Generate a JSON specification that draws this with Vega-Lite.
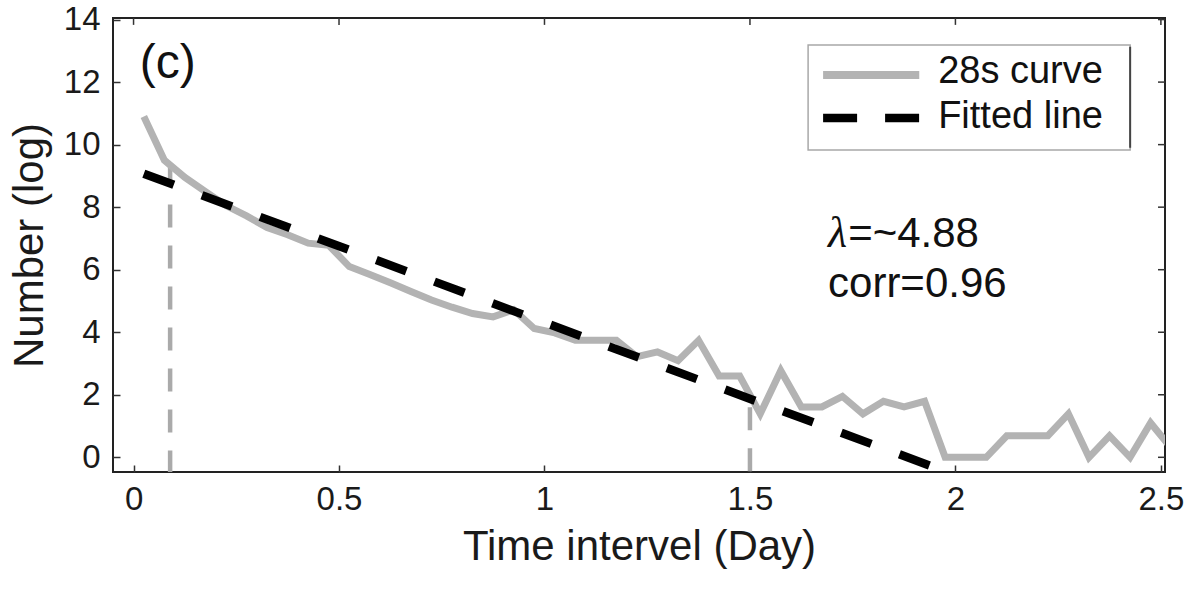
{
  "$schema": "https://vega.github.io/schema/vega-lite/v6.json",
  "autosize": {"type": "none"},
  "padding": {"left": 113, "top": 18, "right": 29, "bottom": 118},
  "width": 1052,
  "height": 454,
  "background": "white",
  "config": {
    "font": "Liberation Sans",
    "view": {"stroke": "#222222", "strokeWidth": 2},
    "axis": {"grid": false, "domain": false, "tickColor": "#333333", "tickWidth": 1.5, "tickSize": -7, "labelColor": "#1a1a1a", "titleColor": "#1a1a1a", "labelFont": "Liberation Sans", "titleFont": "Liberation Sans", "titleFontWeight": "normal"}
  },
  "datasets": {
    "lines": [
      {"series": "28s curve", "x": 0.025, "y": 10.9},
      {"series": "28s curve", "x": 0.075, "y": 9.5},
      {"series": "28s curve", "x": 0.125, "y": 8.95},
      {"series": "28s curve", "x": 0.175, "y": 8.5},
      {"series": "28s curve", "x": 0.225, "y": 8.05},
      {"series": "28s curve", "x": 0.275, "y": 7.72},
      {"series": "28s curve", "x": 0.325, "y": 7.35},
      {"series": "28s curve", "x": 0.375, "y": 7.12},
      {"series": "28s curve", "x": 0.425, "y": 6.85},
      {"series": "28s curve", "x": 0.475, "y": 6.78},
      {"series": "28s curve", "x": 0.525, "y": 6.1},
      {"series": "28s curve", "x": 0.575, "y": 5.85},
      {"series": "28s curve", "x": 0.625, "y": 5.58},
      {"series": "28s curve", "x": 0.675, "y": 5.3},
      {"series": "28s curve", "x": 0.725, "y": 5.03},
      {"series": "28s curve", "x": 0.775, "y": 4.8},
      {"series": "28s curve", "x": 0.825, "y": 4.6},
      {"series": "28s curve", "x": 0.875, "y": 4.49},
      {"series": "28s curve", "x": 0.925, "y": 4.72},
      {"series": "28s curve", "x": 0.975, "y": 4.12},
      {"series": "28s curve", "x": 1.025, "y": 3.98},
      {"series": "28s curve", "x": 1.075, "y": 3.74},
      {"series": "28s curve", "x": 1.125, "y": 3.74},
      {"series": "28s curve", "x": 1.175, "y": 3.74},
      {"series": "28s curve", "x": 1.225, "y": 3.22},
      {"series": "28s curve", "x": 1.275, "y": 3.37},
      {"series": "28s curve", "x": 1.325, "y": 3.09},
      {"series": "28s curve", "x": 1.375, "y": 3.74},
      {"series": "28s curve", "x": 1.425, "y": 2.6},
      {"series": "28s curve", "x": 1.475, "y": 2.6},
      {"series": "28s curve", "x": 1.525, "y": 1.39},
      {"series": "28s curve", "x": 1.575, "y": 2.77},
      {"series": "28s curve", "x": 1.625, "y": 1.61},
      {"series": "28s curve", "x": 1.675, "y": 1.61},
      {"series": "28s curve", "x": 1.725, "y": 1.95},
      {"series": "28s curve", "x": 1.775, "y": 1.39},
      {"series": "28s curve", "x": 1.825, "y": 1.79},
      {"series": "28s curve", "x": 1.875, "y": 1.61},
      {"series": "28s curve", "x": 1.925, "y": 1.79},
      {"series": "28s curve", "x": 1.975, "y": 0},
      {"series": "28s curve", "x": 2.025, "y": 0},
      {"series": "28s curve", "x": 2.075, "y": 0},
      {"series": "28s curve", "x": 2.125, "y": 0.69},
      {"series": "28s curve", "x": 2.175, "y": 0.69},
      {"series": "28s curve", "x": 2.225, "y": 0.69},
      {"series": "28s curve", "x": 2.275, "y": 1.39},
      {"series": "28s curve", "x": 2.325, "y": 0},
      {"series": "28s curve", "x": 2.375, "y": 0.69},
      {"series": "28s curve", "x": 2.425, "y": 0},
      {"series": "28s curve", "x": 2.475, "y": 1.1},
      {"series": "28s curve", "x": 2.525, "y": 0.3},
      {"series": "Fitted line", "x": 0.025, "y": 9.07},
      {"series": "Fitted line", "x": 2.0, "y": -0.57}
    ],
    "marks": [
      {"x": 0.089, "top": 9.4},
      {"x": 1.5, "top": 1.6}
    ],
    "xticks": [{"v": 0}, {"v": 0.5}, {"v": 1}, {"v": 1.5}, {"v": 2}, {"v": 2.5}],
    "yticks": [{"v": 0}, {"v": 2}, {"v": 4}, {"v": 6}, {"v": 8}, {"v": 10}, {"v": 12}, {"v": 14}],
    "legend": [
      {"series": "28s curve", "ly": 12.226, "ty": 11.97},
      {"series": "Fitted line", "ly": 10.85, "ty": 10.53}
    ]
  },
  "layer": [
    {
      "data": {"name": "marks"},
      "mark": {"type": "rule", "color": "#aaaaaa", "strokeWidth": 4.5, "strokeDash": [23, 18], "clip": true},
      "encoding": {
        "x": {"field": "x", "type": "quantitative", "scale": {"domain": [-0.05, 2.51], "nice": false, "zero": false},
          "axis": {"orient": "bottom", "title": "Time intervel (Day)", "values": [0, 0.5, 1, 1.5, 2, 2.5], "format": "~g", "labelFontSize": 33, "labelPadding": 18, "titleFontSize": 42, "titlePadding": 10}},
        "y": {"field": "top", "type": "quantitative", "scale": {"domain": [-0.47, 14.05], "nice": false, "zero": false},
          "axis": {"orient": "left", "title": "Number (log)", "values": [0, 2, 4, 6, 8, 10, 12, 14], "labelFontSize": 33, "labelPadding": 20, "titleFontSize": 42, "titlePadding": 12}},
        "y2": {"datum": -0.6}
      }
    },
    {
      "data": {"name": "xticks"},
      "mark": {"type": "rule", "color": "#333333", "strokeWidth": 1.5},
      "encoding": {
        "x": {"field": "v", "type": "quantitative"},
        "y": {"datum": 14.05},
        "y2": {"datum": 13.83}
      }
    },
    {
      "data": {"name": "yticks"},
      "mark": {"type": "rule", "color": "#333333", "strokeWidth": 1.5},
      "encoding": {
        "y": {"field": "v", "type": "quantitative"},
        "x": {"datum": 2.51},
        "x2": {"datum": 2.493}
      }
    },
    {
      "data": {"name": "lines"},
      "transform": [{"filter": "datum.series === '28s curve'"}],
      "mark": {"type": "line", "clip": true, "strokeWidth": 7, "strokeJoin": "miter"},
      "encoding": {
        "x": {"field": "x", "type": "quantitative"},
        "y": {"field": "y", "type": "quantitative"},
        "color": {"field": "series", "type": "nominal", "scale": {"domain": ["28s curve", "Fitted line"], "range": ["#b3b3b3", "#000000"]}, "legend": null}
      }
    },
    {
      "data": {"name": "lines"},
      "transform": [{"filter": "datum.series === 'Fitted line'"}],
      "mark": {"type": "line", "clip": true, "strokeWidth": 8.5, "strokeCap": "butt", "strokeDash": [32, 30]},
      "encoding": {
        "x": {"field": "x", "type": "quantitative"},
        "y": {"field": "y", "type": "quantitative"},
        "color": {"field": "series", "type": "nominal", "legend": null}
      }
    },
    {
      "data": {"values": [{}]},
      "mark": {"type": "rect", "fill": "white", "stroke": "#a8a8a8", "strokeWidth": 1.5},
      "encoding": {"x": {"datum": 1.6415}, "x2": {"datum": 2.4252}, "y": {"datum": 13.19}, "y2": {"datum": 9.83}}
    },
    {
      "data": {"values": [{}]},
      "mark": {"type": "rule", "color": "#444444", "strokeWidth": 2},
      "encoding": {"x": {"datum": 2.4252}, "y": {"datum": 13.13}, "y2": {"datum": 9.9}}
    },
    {
      "data": {"name": "legend"},
      "transform": [{"filter": "datum.series === '28s curve'"}],
      "mark": {"type": "rule", "strokeWidth": 8, "strokeCap": "butt"},
      "encoding": {
        "x": {"datum": 1.678}, "x2": {"datum": 1.912},
        "y": {"field": "ly", "type": "quantitative"},
        "color": {"field": "series", "type": "nominal", "legend": null}
      }
    },
    {
      "data": {"name": "legend"},
      "transform": [{"filter": "datum.series === 'Fitted line'"}],
      "mark": {"type": "rule", "strokeWidth": 8.5, "strokeCap": "butt", "strokeDash": [34, 28]},
      "encoding": {
        "x": {"datum": 1.678}, "x2": {"datum": 1.912},
        "y": {"field": "ly", "type": "quantitative"},
        "color": {"field": "series", "type": "nominal", "legend": null}
      }
    },
    {
      "data": {"name": "legend"},
      "mark": {"type": "text", "align": "left", "baseline": "alphabetic", "fontSize": 38, "color": "#111111", "font": "Liberation Sans"},
      "encoding": {
        "x": {"datum": 1.958},
        "y": {"field": "ty", "type": "quantitative"},
        "text": {"field": "series"}
      }
    },
    {
      "data": {"values": [{}]},
      "mark": {"type": "text", "text": "λ", "align": "left", "baseline": "alphabetic", "fontSize": 44, "fontStyle": "italic", "color": "#111111", "font": "Liberation Serif"},
      "encoding": {"x": {"datum": 1.69}, "y": {"datum": 6.72}}
    },
    {
      "data": {"values": [{}]},
      "mark": {"type": "text", "text": "=~4.88", "align": "left", "baseline": "alphabetic", "fontSize": 42, "color": "#111111", "font": "Liberation Sans"},
      "encoding": {"x": {"datum": 1.739}, "y": {"datum": 6.72}}
    },
    {
      "data": {"values": [{}]},
      "mark": {"type": "text", "text": "corr=0.96", "align": "left", "baseline": "alphabetic", "fontSize": 42, "color": "#111111", "font": "Liberation Sans"},
      "encoding": {"x": {"datum": 1.69}, "y": {"datum": 5.13}}
    },
    {
      "data": {"values": [{}]},
      "mark": {"type": "text", "text": "(c)", "align": "left", "baseline": "alphabetic", "fontSize": 48, "color": "#111111", "font": "Liberation Sans"},
      "encoding": {"x": {"datum": 0.015}, "y": {"datum": 12.13}}
    }
  ]
}
